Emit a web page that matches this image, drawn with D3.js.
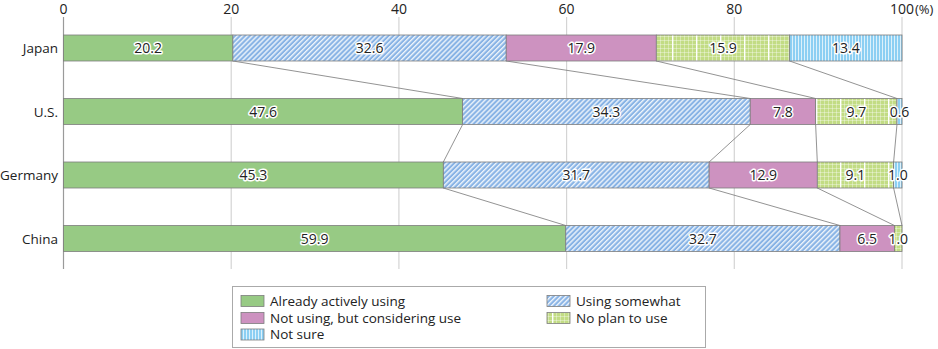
<!DOCTYPE html>
<html><head><meta charset="utf-8">
<script src="https://cdn.jsdelivr.net/npm/d3@7"></script>
<style>body{margin:0;background:#fff}svg{display:block}text{font-family:"Open Sans","Noto Sans",sans-serif}</style>
</head><body>
<svg id="c" width="938" height="349"></svg>
<script>
const categories = ["Japan","U.S.","Germany","China"];
const seriesNames = ["Already actively using","Using somewhat","Not using, but considering use","No plan to use","Not sure"];
const alreadyUsing = [20.2,47.6,45.3,59.9];
const usingSomewhat = [32.6,34.3,31.7,32.7];
const considering = [17.9,7.8,12.9,6.5];
const noPlan = [15.9,9.7,9.1,1.0];
const notSure = [13.4,0.6,1.0,0];
const xTicks = [0,20,40,60,80,100];

const series = [alreadyUsing,usingSomewhat,considering,noPlan,notSure];
const fills = ["#97ca84","url(#hatch)","#cd92c0","url(#grid)","url(#vstripe)"];

const svg = d3.select("#c");
const defs = svg.append("defs");
const ph = defs.append("pattern").attr("id","hatch").attr("patternUnits","userSpaceOnUse").attr("width",3.5).attr("height",3.5).attr("patternTransform","rotate(45)");
ph.append("rect").attr("width",3.5).attr("height",3.5).attr("fill","#88b3e5");
ph.append("rect").attr("width",1.4).attr("height",3.5).attr("fill","#ffffff").attr("opacity",0.85);
const pg = defs.append("pattern").attr("id","grid").attr("patternUnits","userSpaceOnUse").attr("width",24).attr("height",24);
pg.append("rect").attr("width",24).attr("height",24).attr("fill","#c2dc84");
for (let i=0;i<6;i++){
  pg.append("rect").attr("x",i*4).attr("y",0).attr("width",i===0?1.4:0.7).attr("height",24).attr("fill","#fff").attr("opacity",i===0?1:0.5);
  pg.append("rect").attr("x",0).attr("y",i*4).attr("width",24).attr("height",0.7).attr("fill","#fff").attr("opacity",0.5);
}
const pv = defs.append("pattern").attr("id","vstripe").attr("patternUnits","userSpaceOnUse").attr("width",3).attr("height",3);
pv.append("rect").attr("width",3).attr("height",3).attr("fill","#8ccff3");
pv.append("rect").attr("width",1).attr("height",3).attr("fill","#fff").attr("opacity",0.7);

const x = d3.scaleLinear().domain([0,100]).range([63.5,902]);
const y = d3.scalePoint().domain(categories).range([48,238.5]);
const barH = 26;

svg.append("g").selectAll("line").data(xTicks).join("line")
  .attr("x1",d=>x(d)).attr("x2",d=>x(d)).attr("y1",17).attr("y2",269)
  .attr("stroke",d=>d===0?"#9a9a9a":"#d4d4d4").attr("stroke-width",1.2);

const axis = svg.append("g");
axis.selectAll("text").data(xTicks).join("text")
  .attr("x",d=>x(d)).attr("y",13.5).attr("text-anchor","middle")
  .attr("font-size",14).attr("fill","#222").text(d=>d);
axis.append("text").attr("x",x(100)+13).attr("y",13.5).attr("font-size",13).attr("fill","#222").text("(%)");

const stacks = categories.map((c,ci)=>{
  let acc=0;
  return series.map((s,si)=>{const v=s[ci];const o={c,si,v,x0:acc,x1:acc+v};acc+=v;return o;});
});

const conn = svg.append("g");
for (let ci=0;ci<categories.length-1;ci++){
  for (let si=0;si<4;si++){
    const a=stacks[ci][si].x1, b=stacks[ci+1][si].x1;
    conn.append("line").attr("x1",x(Math.min(a,100))).attr("y1",y(categories[ci])+barH/2)
      .attr("x2",x(Math.min(b,100))).attr("y2",y(categories[ci+1])-barH/2)
      .attr("stroke","#777").attr("stroke-width",0.8);
  }
}

const bars = svg.append("g");
stacks.forEach(row=>{
  row.forEach(d=>{
    if (d.v<=0) return;
    bars.append("rect").attr("x",x(d.x0)).attr("y",y(d.c)-barH/2)
      .attr("width",x(Math.min(d.x1,100))-x(d.x0)).attr("height",barH)
      .attr("fill",fills[d.si]).attr("stroke","#7d7d7d").attr("stroke-width",0.8);
  });
});

const lab = svg.append("g");
stacks.forEach(row=>{
  row.forEach(d=>{
    if (d.v<=0) return;
    const cx = Math.min((x(d.x0)+x(Math.min(d.x1,100)))/2, x(100)-2);
    lab.append("text").attr("x",cx).attr("y",y(d.c)+5).attr("text-anchor","middle")
      .attr("font-size",14).attr("fill","#222").attr("stroke","#fff").attr("stroke-width",3)
      .attr("stroke-linejoin","round").attr("paint-order","stroke").text(d.v.toFixed(1));
  });
});

svg.append("g").selectAll("text").data(categories).join("text")
  .attr("x",58).attr("y",d=>y(d)+5).attr("text-anchor","end")
  .attr("font-size",13.5).attr("fill","#222").text(d=>d);

const lg = svg.append("g");
lg.append("rect").attr("x",232.5).attr("y",286.5).attr("width",473).attr("height",61)
  .attr("fill","#fff").attr("stroke","#aaa").attr("stroke-width",1);
const legPos = [[241,301],[547,301],[241,318],[547,318],[241,334.5]];
seriesNames.forEach((n,i)=>{
  const [lx,ly]=legPos[i];
  lg.append("rect").attr("x",lx).attr("y",ly-5.5).attr("width",23).attr("height",11)
    .attr("fill",fills[i]).attr("stroke","#7d7d7d").attr("stroke-width",0.8);
  lg.append("text").attr("x",lx+29).attr("y",ly+4.5).attr("font-size",13.5).attr("fill","#222").text(n);
});
</script>
</body></html>
